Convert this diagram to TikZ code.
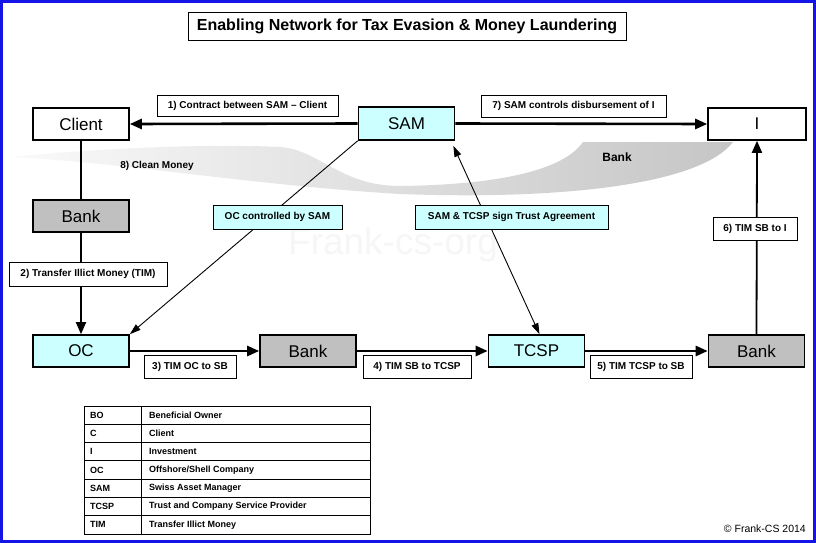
\documentclass[tikz,border=0pt]{standalone}
\usepackage{fontspec}
\setmainfont{Liberation Sans}
\usetikzlibrary{arrows.meta}
\definecolor{cyanbox}{HTML}{CCFFFF}
\definecolor{greybox}{HTML}{C0C0C0}
\definecolor{frameblue}{HTML}{1414E6}
\begin{document}
\begin{tikzpicture}[x=1pt,y=-1pt,
  ent/.style={draw=black, line width=1.6pt, minimum width=96pt, minimum height=32pt, inner sep=0pt, font=\fontsize{17}{20}\selectfont},
  whiteent/.style={ent, fill=white},
  cyanent/.style={ent, fill=cyanbox},
  greyent/.style={ent, fill=greybox},
  lbl/.style={draw=black, line width=0.8pt, fill=white, inner sep=0pt, minimum height=23pt, font=\bfseries\fontsize{10}{12}\selectfont},
  clbl/.style={lbl, fill=cyanbox},
  bigarrow/.style={line width=2.6pt, -{Triangle[length=12pt,width=10pt]}},
  medarrow/.style={line width=1.8pt, -{Triangle[length=12pt,width=10pt]}},
  thinarrow/.style={line width=0.9pt, -{Triangle[length=11pt,width=7pt]}},
  legtxt/.style={anchor=west, inner sep=0pt, font=\bfseries\fontsize{9}{11}\selectfont}
]
\useasboundingbox (0,0) rectangle (816,543);
\fill[white] (0,0) rectangle (816,543);

% background swoosh (clean money flow)
\shade[left color=gray!4, right color=gray!45]
  (583,142) .. controls (560,175) and (480,185) .. (400,186)
  .. controls (340,186) and (320,150) .. (280,147)
  .. controls (200,143) and (80,150) .. (10,157)
  .. controls (120,162) and (250,185) .. (400,194)
  .. controls (560,200) and (700,185) .. (733,142) -- cycle;
\node[font=\bfseries\fontsize{12}{14}\selectfont] (swbank) at (617,157) {Bank};
\node[font=\bfseries\fontsize{10}{12}\selectfont] (clean) at (157,166) {8) Clean Money};

% watermark
\node[text=gray!7, font=\fontsize{37}{40}\selectfont] (wm) at (393,245) {Frank-cs-org};

% title
\node[draw=black, line width=0.8pt, minimum width=438pt, minimum height=28pt, inner sep=0pt, font=\bfseries\fontsize{16}{19}\selectfont] (title) at (407,26) {Enabling Network for Tax Evasion \& Money Laundering};

% entities
\node[whiteent] (client) at (81,124) {Client};
\node[cyanent, minimum height=33pt] (sam) at (406.5,123.5) {SAM};
\node[whiteent, minimum width=98pt] (inv) at (757,124) {I};
\node[greyent] (bank1) at (81,216) {Bank};
\node[cyanent] (oc) at (81,351) {OC};
\node[greyent] (bank2) at (308,351) {Bank};
\node[cyanent] (tcsp) at (536.5,351) {TCSP};
\node[greyent] (bank3) at (756.5,351) {Bank};

% connectors
\draw[bigarrow] (sam.west) -- (client.east);
\draw[bigarrow] (sam.east) -- (inv.west);
\draw[line width=1.8pt] (client.south) -- (bank1.north);
\draw[medarrow] (bank1.south) -- (oc.north);
\draw[bigarrow] (oc.east) -- (bank2.west);
\draw[bigarrow] (bank2.east) -- (tcsp.west);
\draw[bigarrow] (tcsp.east) -- (bank3.west);
\draw[medarrow] (bank3.north) -- (inv.south);
\draw[thinarrow] (sam.south west) -- (oc.north east);
\draw[line width=0.9pt, {Triangle[length=11pt,width=7pt]}-{Triangle[length=11pt,width=7pt]}] ([xshift=-2pt,yshift=-5pt]sam.south east) -- ([xshift=3pt]tcsp.north);

% labels
\node[lbl, minimum width=181pt, minimum height=21pt] (l1) at (247.5,105.5) {1) Contract between SAM – Client};
\node[lbl, minimum width=185pt, minimum height=22pt] (l7) at (573.5,106) {7) SAM controls disbursement of I};
\node[clbl, minimum width=129pt, minimum height=24pt] (locs) at (277.5,217) {OC controlled by SAM};
\node[clbl, minimum width=193pt, minimum height=24pt] (ltr) at (511.5,217) {SAM \& TCSP sign Trust Agreement};
\node[lbl, minimum width=84pt] (l6) at (755,228.5) {6) TIM SB to I};
\node[lbl, minimum width=158pt, minimum height=24pt] (l2) at (88,274) {2) Transfer Illict Money (TIM)};
\node[lbl, minimum width=92pt] (l3) at (190,366.5) {3) TIM OC to SB};
\node[lbl, minimum width=108pt] (l4) at (417,366.5) {4) TIM SB to TCSP};
\node[lbl, minimum width=102pt] (l5) at (641,366.5) {5) TIM TCSP to SB};

% legend table
\draw[line width=0.8pt] (84,406) rectangle (370,534);
\foreach \k in {1,...,6} \draw[line width=0.8pt] (84,406+18.286*\k) -- (370,406+18.286*\k);
\draw[line width=0.8pt] (141,406) -- (141,534);
\foreach \k/\a/\b in {1/BO/Beneficial Owner, 2/C/Client, 3/I/Investment, 4/OC/Offshore\slash Shell Company, 5/SAM/Swiss Asset Manager, 6/TCSP/Trust and Company Service Provider, 7/TIM/Transfer Illict Money} {
  \node[legtxt] (lk\k) at (90,406+18.286*\k-9.143) {\a};
  \node[legtxt] (lv\k) at (149,406+18.286*\k-9.143) {\b};
}

% copyright
\node[anchor=east, inner sep=0pt, font=\fontsize{10.5}{12}\selectfont] (copy) at (806,529) {© Frank-CS 2014};

% frame
\draw[frameblue, line width=3pt] (1.5,1.5) rectangle (814.5,541.5);
\end{tikzpicture}
\end{document}
